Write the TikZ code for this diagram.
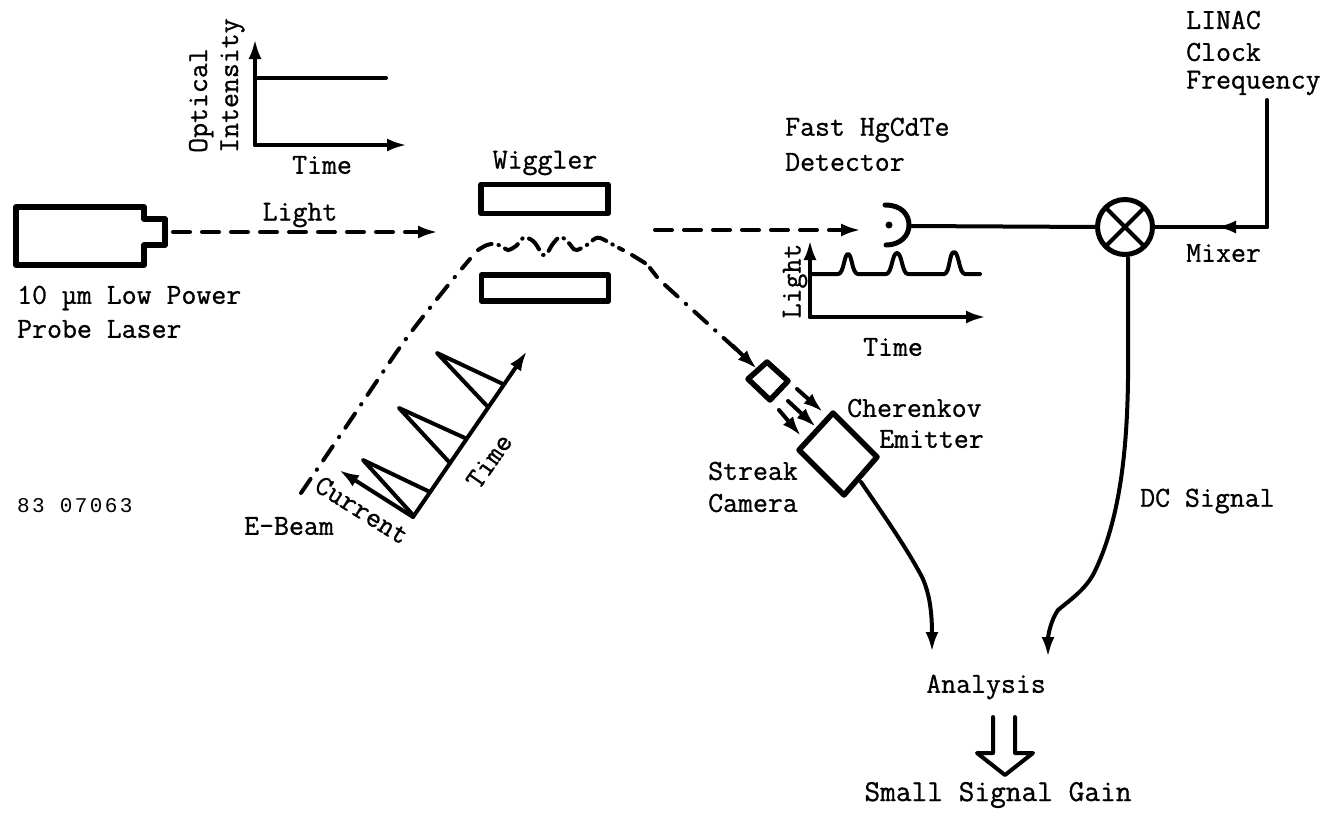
\documentclass[tikz,border=0pt]{standalone}
\usepackage{fontspec}
\setmonofont[FakeBold=0.9]{Latin Modern Mono}
\newfontfamily\numfont[LetterSpace=11.4]{Liberation Mono}
\usetikzlibrary{arrows.meta,calc}
\tikzset{
 x=1pt,y=-1pt,
 lab/.style={inner sep=0pt,font=\fontsize{29}{34}\ttfamily\selectfont,align=left},
 lw/.style={line width=4pt,line cap=round,line join=round},
 thick box/.style={line width=5.5pt,line join=round},
 tip/.style={-{Latex[length=20pt,width=13pt]}},
 dsh/.style={lw,dash pattern=on 17pt off 12pt},
 dd/.style={line width=4pt,line cap=round,dash pattern=on 17pt off 11pt on 0.5pt off 11pt},
 dw/.style={line width=4pt,line cap=round,dash pattern=on 15pt off 7pt on 0.5pt off 7pt},
 pt/.style={inner sep=0pt,minimum size=0pt,outer sep=0pt},
}
\begin{document}
\begin{tikzpicture}
\useasboundingbox (0,0) rectangle (1340,814);
% laser
\draw[thick box] (16,207) -- (144,207) -- (144,219) -- (165,219) -- (165,245) -- (144,245) -- (144,265) -- (16,265) -- cycle;
\coordinate (laserout) at (173,232);
\coordinate (wigin) at (438,232);
\draw[dsh,tip] (laserout) -- (wigin);
\node[lab,anchor=center] (lightL) at (300,215) {Light};
\node[lab,anchor=west] (las1) at (17,298) {10 µm Low Power};
\node[lab,anchor=west] (las2) at (17,329) {Probe Laser};
% top chart
\coordinate (o1) at (255,145);
\coordinate (o1y) at (255,39);
\coordinate (o1x) at (407,145);
\draw[lw,tip] (o1) -- (o1y);
\draw[lw,tip] (o1) -- (o1x);
\coordinate (s1a) at (255,78);
\coordinate (s1b) at (386,78);
\draw[lw] (s1a) -- (s1b);
\node[lab,rotate=90,anchor=base west] (oi1) at (207,153) {Optical};
\node[lab,rotate=90,anchor=base west] (oi2) at (238,153) {Intensity};
\node[lab] (t1) at (322,165) {Time};
% wiggler
\node[lab] (wigL) at (545,163) {Wiggler};
\node[draw,thick box,pt,minimum width=127pt,minimum height=29pt] (wigU) at (544.5,199) {};
\node[draw,thick box,pt,minimum width=127pt,minimum height=26pt] (wigD) at (545,288) {};
% e-beam
\coordinate (ebstart) at (301,493);
\draw[dd] plot[smooth,tension=0.5] coordinates {(301,493) (352,418) (403,343) (445,289) (470,259)};
\draw[dw] plot[smooth,tension=0.6] coordinates {(478,250) (487,245) (495,244) (503,247) (508,250) (516,246) (523,238) (528,238) (535,243) (543,255) (548,252) (552,245) (560,237) (568,242) (572,247) (577,250) (590,243) (593,240) (600,238) (617,247) (623,250)};
\draw[dd] (632,255) -- (645,263) (650,268) -- (657,277);
\draw[dd] (665,285) -- (738,351);
\coordinate (ebt) at (733,346);
\coordinate (ebe) at (757,369);
\draw[lw,tip] (ebt) -- (ebe);
% detector
\coordinate (hv) at (861,230);
\coordinate (hu) at (655,230);
\draw[dsh,tip] (hu) -- (hv);
\draw[line width=5pt,line cap=round] (885,205) .. controls (902,205) and (909,215) .. (909,225) .. controls (909,236) and (900,245) .. (886,245);
\node[circle,fill=black,pt,minimum size=7pt] (ddot) at (889,225) {};
\coordinate (detout) at (910,226);
\node[lab,anchor=west] (det1) at (785,130) {Fast HgCdTe};
\node[lab,anchor=west] (det2) at (785,162) {Detector};
% mixer
\node[draw,circle,line width=5pt,pt,minimum size=55pt] (mix) at (1125,227) {};
\draw[line width=4pt] (mix.north west) -- (mix.south east) (mix.north east) -- (mix.south west);
\draw[lw] (detout) -- (mix.west);
\coordinate (lin) at (1267,100);
\coordinate (linb) at (1267,227);
\coordinate (mida) at (1216,227);
\draw[lw] (lin) -- (linb) -- (mix.east);
\draw[lw,tip] (linb) -- (mida);
\node[lab,anchor=west] (l1) at (1186,20) {LINAC};
\node[lab,anchor=west] (l2) at (1186,52) {Clock};
\node[lab,anchor=west] (l3) at (1186,83) {Frequency};
\node[lab,anchor=west] (mixL) at (1186,253) {Mixer};
% light chart
\coordinate (o2) at (810,317);
\coordinate (o2y) at (810,240);
\coordinate (o2x) at (986,317);
\draw[lw,tip] (o2) -- (o2y);
\draw[lw,tip] (o2) -- (o2x);
\draw[line width=4pt,line cap=round,line join=round] (810,274) -- (838,274) .. controls (844,274) and (844,254) .. (848,254) .. controls (852,254) and (852,274) .. (858,274) -- (886,274) .. controls (892,274) and (892,253) .. (897,253) .. controls (902,253) and (902,274) .. (908,274) -- (944,274) .. controls (950,274) and (949,252) .. (954,252) .. controls (959,252) and (959,274) .. (965,274) -- (980,274);
\node[lab,rotate=90] (lightv) at (795,281) {Light};
\node[lab] (t2) at (893,347) {Time};
% bunch chart
\coordinate (o3) at (413,517);
\coordinate (o3t) at (527,351);
\coordinate (o3c) at (339,470);
\draw[lw,tip] (o3) -- (o3t);
\draw[lw,tip] (o3) -- (o3c);
\draw[lw] (413,515) -- (363,460) -- (430,492);
\draw[lw] (450,463) -- (399,408) -- (465,438);
\draw[lw] (488,407) -- (437,353) -- (503,384);
\node[lab,rotate=55] (t3) at (489,461) {Time};
\node[lab,rotate=-32] (cur) at (362,510) {Current};
\node[lab] (eb) at (289,526) {E-Beam};
\node[lab,anchor=west,font=\fontsize{21}{26}\numfont\selectfont] (num) at (17,506) {83 07063};
% diamonds
\draw[thick box] (767,362) -- (788,381) -- (770,400) -- (748,379) -- cycle;
\draw[thick box] (833,413) -- (877,457) -- (844,495) -- (799,450) -- cycle;
\coordinate (a1) at (797,389); \coordinate (a1e) at (823,412);
\coordinate (a2) at (788,401); \coordinate (a2e) at (816,427);
\coordinate (a3) at (779,410); \coordinate (a3e) at (801,436);
\draw[lw,tip] (a1) -- (a1e);
\draw[lw,tip] (a2) -- (a2e);
\draw[lw,tip] (a3) -- (a3e);
\node[lab,anchor=west] (ch1) at (847,408) {Cherenkov};
\node[lab,anchor=west] (ch2) at (879,439) {Emitter};
\node[lab,anchor=west] (st1) at (708,471) {Streak};
\node[lab,anchor=west] (st2) at (708,503) {Camera};
% analysis wires
\coordinate (cw) at (861,482);
\coordinate (ca) at (932,652);
\draw[lw,tip] (cw) .. controls (880,510) and (905,545) .. (922,577) .. controls (929,592) and (932,610) .. (ca);
\coordinate (dw) at (1128,258);
\coordinate (da) at (1048,657);
\draw[lw,tip] (dw) -- (1128,380) .. controls (1127,450) and (1120,520) .. (1094,573) .. controls (1085,590) and (1070,600) .. (1058,610) .. controls (1051,620) and (1048,635) .. (da);
\node[lab,anchor=west] (dc) at (1140,501) {DC Signal};
\node[lab] (an) at (986,687) {Analysis};
\draw[lw] (993,717) -- (993,753) -- (977,753) -- (1005,775) -- (1033,753) -- (1015,753) -- (1015,717);
\node[lab,font=\fontsize{30.5}{34}\ttfamily\selectfont] (ssg) at (998,795) {Small Signal Gain};
\end{tikzpicture}
\end{document}
